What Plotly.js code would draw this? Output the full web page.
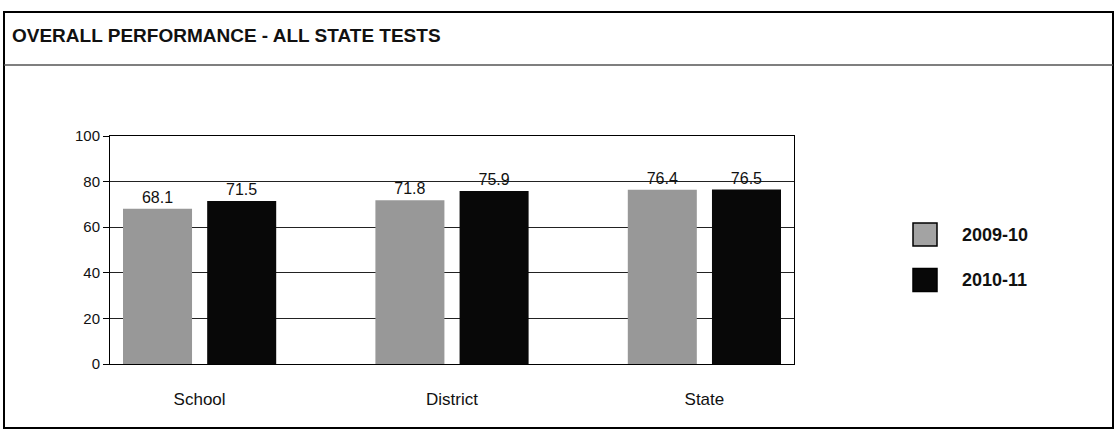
<!DOCTYPE html>
<html>
<head>
<meta charset="utf-8">
<script src="https://cdn.plot.ly/plotly-3.0.1.min.js"></script>
<style>html,body{margin:0;padding:0;background:#fff;}#chart{width:1118px;height:444px;}</style>
</head>
<body>
<div id="chart"></div>
<script>
// ---- data ----
const categories = ['School', 'District', 'State'];
const seriesNames = ['2009-10', '2010-11'];
const values2009 = [68.1, 71.8, 76.4];
const values2010 = [71.5, 75.9, 76.5];
const yTicks = [0, 20, 40, 60, 80, 100];
const chartTitle = 'OVERALL PERFORMANCE - ALL STATE TESTS';

// ---- layout helpers ----
const W = 1118, H = 444;
const M = {l: 110, r: 324, t: 136, b: 80};
const pw = W - M.l - M.r, ph = H - M.t - M.b;
const px = x => (x - M.l) / pw;
const py = y => (H - M.b - y) / ph;

const regular = "'Liberation Sans', Arial, sans-serif";

const fills = [
  {color: '#a0a0a0', pattern: {shape: '.', fgcolor: '#686868', bgcolor: '#bdbdbd', size: 2, solidity: 0.5}},
  {color: '#080808'}
];
const legendFill = ['#a3a3a3', '#080808'];

const traces = [values2009, values2010].map((vals, i) => ({
  type: 'bar',
  name: seriesNames[i],
  x: categories,
  y: vals,
  text: vals.map(v => v.toFixed(1)),
  textposition: 'outside',
  cliponaxis: false,
  textfont: {family: regular, size: 16, color: '#111'},
  marker: Object.assign({line: {width: 0}}, fills[i]),
  showlegend: false,
  hoverinfo: 'skip'
}));

const shapes = [
  {type: 'rect', xref: 'paper', yref: 'paper', x0: px(4), x1: px(1113), y0: py(428), y1: py(12),
   line: {color: '#000', width: 2}, fillcolor: 'rgba(0,0,0,0)', layer: 'below'},
  {type: 'line', xref: 'paper', yref: 'paper', x0: px(4), x1: px(1113), y0: py(65), y1: py(65),
   line: {color: '#555', width: 1.5}}
];
const annotations = [];
const legY = [234.5, 280];
seriesNames.forEach((name, i) => {
  shapes.push({type: 'rect', xref: 'paper', yref: 'paper',
    x0: px(913), x1: px(937), y0: py(legY[i] + 11.5), y1: py(legY[i] - 11.5),
    fillcolor: legendFill[i], line: {color: '#000', width: 1.5}});
  annotations.push({xref: 'paper', yref: 'paper', x: px(960), y: py(legY[i]),
    xanchor: 'left', yanchor: 'middle', showarrow: false, text: '<b>' + name + '</b>',
    font: {family: regular, size: 18, color: '#111'}});
});

const layout = {
  width: W, height: H,
  margin: M,
  paper_bgcolor: '#fff', plot_bgcolor: '#fff',
  font: {family: regular, color: '#111'},
  title: {text: '<b>' + chartTitle + '</b>', xref: 'container', yref: 'container',
          x: 12 / W, xanchor: 'left', y: 1 - 35.5 / H, yanchor: 'middle',
          font: {family: regular, size: 19, color: '#111'}},
  barmode: 'group',
  bargap: 0.333,
  bargroupgap: 0.18,
  showlegend: false,
  xaxis: {
    type: 'category', range: [-0.355, 2.355], fixedrange: true,
    showline: true, mirror: true, linecolor: '#000', linewidth: 1,
    showgrid: false, ticks: '', ticklabelstandoff: 20,
    tickfont: {family: regular, size: 17, color: '#111'}
  },
  yaxis: {
    range: [0, 100], tickvals: yTicks, fixedrange: true,
    showline: true, mirror: true, linecolor: '#000', linewidth: 1,
    showgrid: true, gridcolor: '#222', gridwidth: 1, zeroline: false,
    ticks: 'outside', ticklen: 6, tickcolor: '#000',
    tickfont: {family: regular, size: 15, color: '#111'}
  },
  shapes: shapes,
  annotations: annotations
};

Plotly.newPlot('chart', traces, layout, {staticPlot: true});
</script>
</body>
</html>
